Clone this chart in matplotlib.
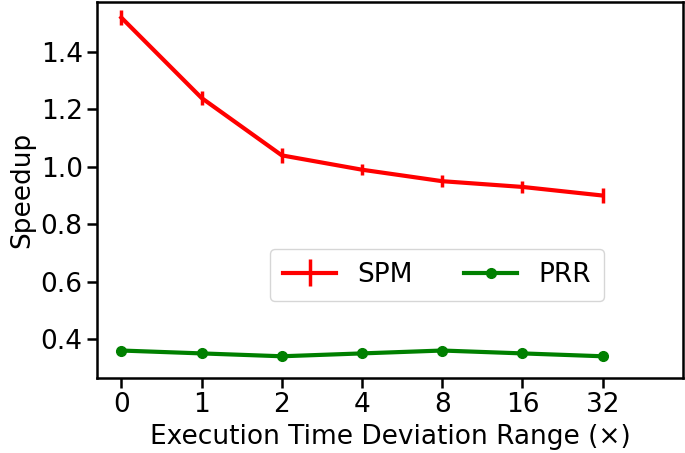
import matplotlib
matplotlib.use('Agg')
import matplotlib.pyplot as plt

ranges = ['0', '1', '2', '4', '8', '16', '32']
spm = [1.52, 1.24, 1.04, 0.99, 0.95, 0.93, 0.90]
spm_err = [0.025, 0.025, 0.025, 0.02, 0.02, 0.02, 0.025]
prr = [0.36, 0.35, 0.34, 0.35, 0.36, 0.35, 0.34]

plt.rcParams['font.size'] = 19
fig, ax = plt.subplots(figsize=(6.85, 4.53), dpi=100)
fig.subplots_adjust(left=0.142, right=0.997, bottom=0.166, top=0.996)

x = list(range(len(ranges)))
h1 = ax.errorbar(x, spm, yerr=spm_err, color='red', linewidth=3, elinewidth=2.5, label='SPM')
h2, = ax.plot(x, prr, color='green', linewidth=3, marker='o', markersize=7, label='PRR')

ax.set_xticks(x)
ax.set_xticklabels(ranges)
ax.set_xlim(-0.3, 7)
ax.set_ylim(0.265, 1.575)
ax.set_yticks([0.4, 0.6, 0.8, 1.0, 1.2, 1.4])
ax.set_xlabel('Execution Time Deviation Range (×)')
ax.set_ylabel('Speedup')
for s in ax.spines.values():
    s.set_linewidth(1.8)
ax.tick_params(width=1.8, length=7)
ax.legend([h1, h2], ['SPM', 'PRR'], ncol=2, loc='center', bbox_to_anchor=(0.58, 0.274),
          columnspacing=1.95, handlelength=2.0, borderpad=0.5)

plt.savefig('out.png')
